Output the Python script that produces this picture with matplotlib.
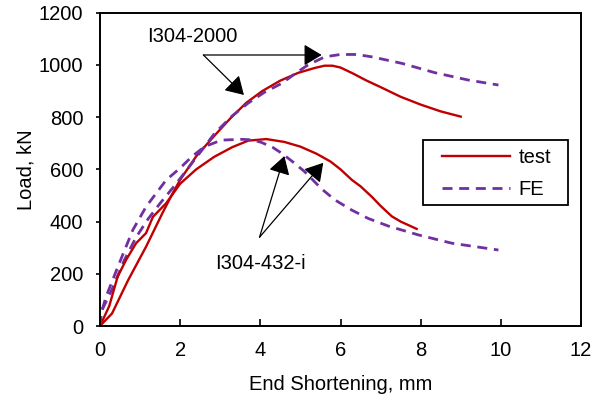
import matplotlib
matplotlib.use('Agg')
import matplotlib.pyplot as plt
from matplotlib.patches import Rectangle

plt.rcParams['font.family'] = ['Liberation Sans', 'DejaVu Sans']

# I304-2000 test / FE curves (end shortening in mm, load in kN)
test_2000_x = [0, 0.3, 0.7, 1.15, 1.55, 1.8, 2.0, 2.4, 2.85, 3.25, 3.65, 4.05, 4.5, 4.95,
               5.35, 5.6, 5.8, 6.0, 6.3, 6.65, 7.0, 7.5, 8.0, 8.5, 9.0]
test_2000_y = [0, 48, 175, 304, 430, 505, 560, 650, 728, 795, 855, 900, 940, 970,
               988, 997, 997, 990, 968, 940, 915, 878, 848, 822, 802]

fe_2000_x = [0, 0.03, 0.3, 0.6, 0.9, 1.2, 1.5, 1.9, 2.4, 2.86, 3.3, 3.69, 4.1, 4.53,
             4.9, 5.19, 5.61, 6.0, 6.4, 6.78, 7.53, 8.36, 9.19, 9.94]
fe_2000_y = [0, 55, 140, 250, 340, 410, 470, 545, 645, 738, 805, 853, 895, 929,
             970, 1000, 1031, 1040, 1040, 1031, 1006, 970, 942, 923]

# I304-432-i test / FE curves
test_432_x = [0, 0.23, 0.44, 0.65, 0.9, 1.15, 1.32, 1.65, 2.0, 2.4, 2.85, 3.3, 3.7, 4.15,
              4.6, 5.0, 5.4, 5.75, 6.0, 6.28, 6.5, 6.78, 7.0, 7.28, 7.5, 7.9]
test_432_y = [0, 76, 189, 253, 317, 356, 418, 470, 545, 600, 648, 685, 710, 716,
              705, 687, 660, 630, 600, 560, 535, 495, 460, 420, 400, 372]

fe_432_x = [0, 0.03, 0.15, 0.48, 0.82, 1.15, 1.65, 2.0, 2.3, 2.61, 3.03, 3.53, 3.8, 4.03,
            4.3, 4.53, 4.8, 5.1, 5.53, 5.86, 6.28, 6.69, 7.19, 7.94, 8.78, 9.94]
fe_432_y = [0, 49, 112, 240, 368, 457, 559, 605, 650, 687, 712, 715, 713, 703,
            685, 662, 630, 592, 525, 483, 444, 412, 383, 349, 317, 291]

red = '#C00000'
purple = '#7030A0'
fs = 14.5

fig = plt.figure(figsize=(5.99, 4.0), dpi=100)
ax = fig.add_axes([100 / 599, 74 / 400, 481 / 599, 313.3 / 400])

ax.plot(test_2000_x, test_2000_y, color=red, lw=1.7, label='test')
ax.plot(fe_2000_x, fe_2000_y, color=purple, lw=2.0, dashes=(3.6, 2.4), label='FE')
ax.plot(test_432_x, test_432_y, color=red, lw=1.7)
ax.plot(fe_432_x, fe_432_y, color=purple, lw=2.0, dashes=(3.6, 2.4))

ax.set_xlim(0, 12)
ax.set_ylim(0, 1200)
ax.set_xticks(range(0, 13, 2))
ax.set_yticks(range(0, 1201, 200))
ax.tick_params(axis='x', direction='in', length=5, width=1.2, pad=11, labelsize=fs)
ax.tick_params(axis='y', direction='out', length=3, width=1.2, pad=9, labelsize=fs)
for s in ax.spines.values():
    s.set_linewidth(1.4)

ax.set_xlabel('End Shortening, mm', fontsize=fs)
ax.set_ylabel('Load, kN', fontsize=fs)
ax.xaxis.set_label_coords(0.5, -0.155)
ax.yaxis.set_label_coords(-0.135, 0.5)

# annotations
arrow = dict(arrowstyle='-|>,head_length=0.5,head_width=0.3', color='black', lw=0.9,
             shrinkA=0, shrinkB=0, mutation_scale=22)
ax.text(2.3, 1107, 'I304-2000', fontsize=fs, ha='center', va='center')
ax.annotate('', xy=(5.53, 1038), xytext=(2.58, 1038), arrowprops=arrow)
ax.annotate('', xy=(3.59, 885), xytext=(2.58, 1038), arrowprops=arrow)

ax.text(4.0, 241, 'I304-432-i', fontsize=fs, ha='center', va='center')
ax.annotate('', xy=(4.6, 651), xytext=(3.98, 340), arrowprops=arrow)
ax.annotate('', xy=(5.57, 625), xytext=(3.98, 340), arrowprops=arrow)

# legend box drawn separately so its padding matches the original
ax.add_patch(Rectangle((0.6715, 0.386), 0.3015, 0.2075, transform=ax.transAxes,
                       facecolor='white', edgecolor='black', lw=1.3, zorder=4))
leg = ax.legend(loc='upper left', bbox_to_anchor=(0.711, 0.568), borderaxespad=0,
                fontsize=fs, handlelength=3.4, handletextpad=0.4, labelspacing=0.65,
                borderpad=0, frameon=False)
leg.set_zorder(5)

fig.savefig('out.png', dpi=100)
